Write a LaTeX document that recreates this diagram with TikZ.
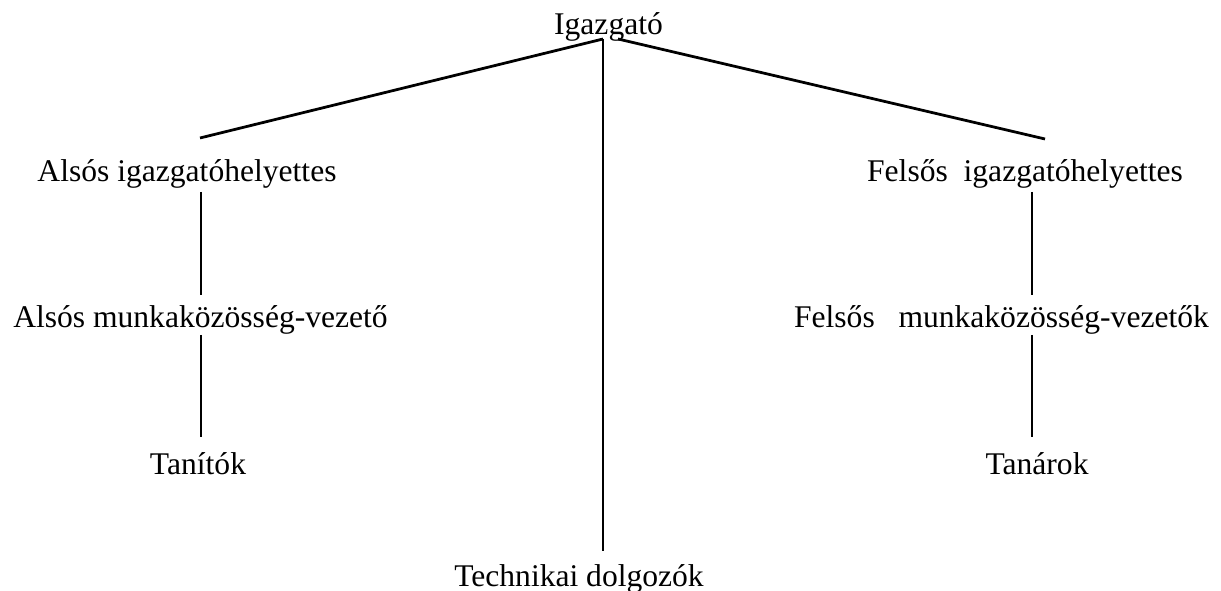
\documentclass[tikz,border=0pt]{standalone}
\usepackage{fontspec}
\setmainfont{Liberation Serif}
\usepackage{tikz}
\usetikzlibrary{calc}

\begin{document}
\begin{tikzpicture}[x=0.38pt, y=-0.38pt,
    post/.style={anchor=base, inner sep=0pt, font=\fontsize{12pt}{14pt}\selectfont},
    tie/.style={draw=black, line width=0.75pt},
    slant/.style={tie, line width=1.05pt}]
  \useasboundingbox (0,0) rectangle (1221,591);
  % posts, placed at their baselines
  \node[post] (boss)      at (608.5,35) {Igazgató};
  \node[post] (lowvice)   at (187,182)  {Alsós igazgatóhelyettes};
  \node[post] (highvice)  at (1025,182) {Felsős\ \ igazgatóhelyettes};
  \node[post] (lowlead)   at (200.5,328) {Alsós munkaközösség-vezető};
  \node[post] (highlead)  at (1001.5,328) {Felsős\ \ \ munkaközösség-vezetők};
  \node[post] (teachlow)  at (198,475)  {Tanítók};
  \node[post] (teachhigh) at (1037,475) {Tanárok};
  \node[post] (tech)      at (579,587)  {Technikai dolgozók};
  \coordinate (fork) at ($(boss.base)+(-5.5,4)$);
  % ties
  \draw[slant] (fork) -- ($(lowvice.base)+(13,-44)$);
  \draw[slant] ($(fork)+(15,0)$) -- ($(highvice.base)+(20,-43)$);
  \draw[tie] (fork) -- ($(fork |- tech.base)+(0,-36)$);
  \draw[tie] ($(lowvice.base)+(14,10)$) -- ($(lowlead.base)+(0.5,-33)$);
  \draw[tie] ($(lowlead.base)+(0.5,7)$) -- ($(teachlow.base)+(3,-38)$);
  \draw[tie] ($(highvice.base)+(7,10)$) -- ($(highlead.base)+(30.5,-33)$);
  \draw[tie] ($(highlead.base)+(30.5,7)$) -- ($(teachhigh.base)+(-5,-38)$);
\end{tikzpicture}
\end{document}
